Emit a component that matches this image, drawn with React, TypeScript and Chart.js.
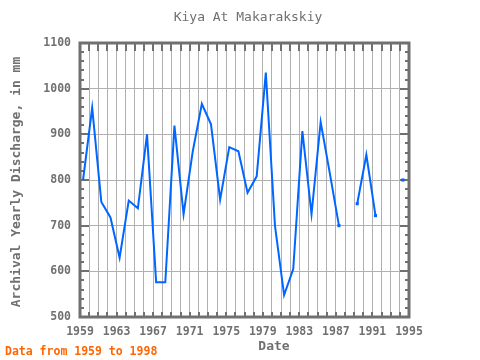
import React, { useEffect, useRef } from "react";
import { Chart, registerables } from "chart.js";

Chart.register(...registerables);

const titleText = "Kiya At Makarakskiy";
const yAxisLabel = "Archival Yearly Discharge, in mm";
const xAxisLabel = "Date";
const footerText = "Data from 1959 to 1998";

const years = [
  1959, 1960, 1961, 1962, 1963, 1964, 1965, 1966, 1967, 1968, 1969, 1970,
  1971, 1972, 1973, 1974, 1975, 1976, 1977, 1978, 1979, 1980, 1981, 1982,
  1983, 1984, 1985, 1986, 1987, 1988, 1989, 1990, 1991, 1992, 1993, 1994,
];
const discharge: (number | null)[] = [
  800, 958, 752, 718, 630, 755, 738, 900, 576, 576, 919, 725,
  862, 967, 922, 757, 872, 863, 772, 808, 1035, 700, 548, 605,
  907, 725, 927, 815, 700, null, 748, 855, 722, null, null, 800,
];
const sampleMonth = 5;
const xTickYears = [1959, 1963, 1967, 1971, 1975, 1979, 1983, 1987, 1991, 1995];
const yTicks = [500, 600, 700, 800, 900, 1000, 1100];

const GREY = "#707070";
const MONO = "'DejaVu Sans Mono', 'Liberation Mono', monospace";

export default function App() {
  const ref = useRef<HTMLCanvasElement | null>(null);

  useEffect(() => {
    if (!ref.current) return;
    const points = years.map((y, i) => ({ x: y + (sampleMonth - 1) / 12, y: discharge[i] }));

    const decor = {
      id: "decor",
      beforeDatasetsDraw(chart: any) {
        const ctx = chart.ctx;
        const a = chart.chartArea;
        const xs = chart.scales.x;
        const ys = chart.scales.y;
        ctx.save();
        ctx.strokeStyle = GREY;
        ctx.lineWidth = 2;
        for (let v = 500; v <= 1100; v += 20) {
          const py = Math.round(ys.getPixelForValue(v));
          const len = v % 100 === 0 ? 9 : 4;
          ctx.beginPath();
          ctx.moveTo(a.left, py);
          ctx.lineTo(a.left + len, py);
          ctx.moveTo(a.right, py);
          ctx.lineTo(a.right - len, py);
          ctx.stroke();
        }
        for (let yv = 1959; yv <= 1995; yv++) {
          const px = Math.round(xs.getPixelForValue(yv));
          ctx.beginPath();
          ctx.moveTo(px, a.top);
          ctx.lineTo(px, a.top + 8);
          ctx.moveTo(px, a.bottom);
          ctx.lineTo(px, a.bottom - 5);
          ctx.stroke();
        }
        ctx.lineWidth = 3;
        ctx.strokeRect(a.left, a.top, a.right - a.left, a.bottom - a.top);
        ctx.restore();
      },
      afterDraw(chart: any) {
        const ctx = chart.ctx;
        ctx.save();
        ctx.fillStyle = GREY;
        ctx.textAlign = "center";
        ctx.textBaseline = "middle";
        ctx.font = `13px ${MONO}`;
        ctx.fillText(titleText, 248, 18);
        ctx.font = `bold 13px ${MONO}`;
        ctx.fillText(xAxisLabel, 274, 347);
        ctx.save();
        ctx.translate(17, 182);
        ctx.rotate(-Math.PI / 2);
        ctx.fillText(yAxisLabel, 0, 0);
        ctx.restore();
        ctx.fillStyle = "#ff6600";
        ctx.textAlign = "left";
        ctx.font = `bold 11.5px ${MONO}`;
        ctx.fillText(footerText, 5, 352);
        ctx.restore();
      },
    };

    const chart = new Chart(ref.current, {
      type: "line",
      data: {
        datasets: [
          {
            data: points as any,
            borderColor: "#0066ff",
            backgroundColor: "#0066ff",
            borderWidth: 2,
            tension: 0,
            spanGaps: false,
            pointStyle: "rect",
            pointBorderWidth: 0,
            pointRadius: (c: any) => {
              const i = c.dataIndex;
              const prev = i > 0 ? discharge[i - 1] : null;
              const next = i < discharge.length - 1 ? discharge[i + 1] : null;
              return discharge[i] !== null && (prev === null || next === null) && i !== 0 ? 2.2 : 0;
            },
          },
        ],
      },
      options: {
        responsive: false,
        animation: false,
        layout: { padding: { left: 0, right: 71, top: 43, bottom: 0 } },
        plugins: { legend: { display: false }, tooltip: { enabled: false }, title: { display: false } },
        scales: {
          x: {
            type: "linear",
            min: 1959,
            max: 1995,
            afterFit: (s: any) => { s.height = 43; },
            afterBuildTicks: (s: any) => {
              s.ticks = [];
              for (let v = 1959; v <= 1995; v++) s.ticks.push({ value: v });
            },
            ticks: {
              autoSkip: false,
              maxRotation: 0,
              padding: 8,
              color: GREY,
              font: { family: MONO, size: 11.5, weight: "bold" },
              callback: (v: any) => (xTickYears.includes(Number(v)) ? String(v) : ""),
            },
            grid: { color: "#b0b0b0", lineWidth: 1, drawTicks: false },
            border: { display: false },
          },
          y: {
            min: 500,
            max: 1100,
            afterFit: (s: any) => { s.width = 80; },
            afterBuildTicks: (s: any) => { s.ticks = yTicks.map((v) => ({ value: v })); },
            ticks: {
              padding: 9,
              color: GREY,
              font: { family: MONO, size: 11.5, weight: "bold" },
              callback: (v: any) => String(v),
            },
            grid: { color: "#b0b0b0", lineWidth: 1, drawTicks: false },
            border: { display: false },
          },
        },
      },
      plugins: [decor],
    } as any);
    return () => chart.destroy();
  }, []);

  return (
    <div style={{ position: "absolute", left: 0, top: 0, width: 480, height: 360, background: "#fff" }}>
      <canvas ref={ref} width={480} height={360} />
    </div>
  );
}
